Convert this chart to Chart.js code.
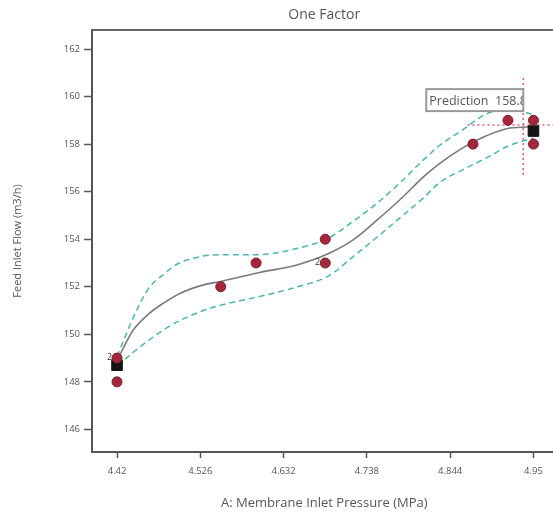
<!DOCTYPE html>
<html>
<head>
<meta charset="utf-8">
<script src="https://cdn.jsdelivr.net/npm/chart.js@4/dist/chart.umd.min.js"></script>
<style>
  html, body { margin: 0; padding: 0; overflow: hidden; background: #fff; }
  canvas { display: block; }
</style>
</head>
<body>
<canvas id="factorChart" width="565" height="513"></canvas>
<script>
// measured runs
const runPressure = [4.42, 4.42, 4.552, 4.597, 4.685, 4.685, 4.873, 4.9175, 4.95, 4.95];
const runFlow = [149, 148, 152, 153, 154, 153, 158, 159, 159, 158];
const replicateRuns = [0, 5]; // runs that were done twice

// design end points
const endPressure = [4.42, 4.95];
const endFlow = [148.7, 158.55];

// model fit and its confidence band
const fitPressure = [4.42, 4.43, 4.44, 4.46, 4.48, 4.50, 4.53, 4.55, 4.60, 4.65, 4.69, 4.72, 4.75, 4.78, 4.81, 4.83, 4.86, 4.89, 4.92, 4.95];
const fitFlow = [148.9, 149.55, 150.15, 150.85, 151.33, 151.72, 152.08, 152.21, 152.59, 152.93, 153.41, 153.96, 154.78, 155.66, 156.62, 157.17, 157.84, 158.35, 158.68, 158.73];
const upperFlow = [149.06, 149.87, 150.66, 151.92, 152.55, 153.01, 153.29, 153.35, 153.35, 153.62, 154.06, 154.74, 155.49, 156.37, 157.34, 157.93, 158.60, 159.27, 159.48, 159.23];
const lowerFlow = [148.69, 148.95, 149.23, 149.74, 150.20, 150.58, 151.00, 151.21, 151.58, 152.00, 152.47, 153.26, 154.06, 154.90, 155.74, 156.37, 156.92, 157.42, 157.95, 158.25];

// prediction crosshair
const predPressure = 4.937;
const predFlow = 158.8;
const predSpanX = [4.866, 5.0];
const predSpanY = [156.7, 160.9];

const xTicks = [4.42, 4.526, 4.632, 4.738, 4.844, 4.95];
const xTickLabels = ['4.42', '4.526', '4.632', '4.738', '4.844', '4.95'];
const yTicks = [146, 148, 150, 152, 154, 156, 158, 160, 162];

const FONT = '"Open Sans", "Noto Sans", sans-serif';
const INK = '#555';

const pts = (xs, ys) => xs.map((x, i) => ({ x, y: ys[i] }));

const framePlugin = {
  id: 'frame',
  beforeDatasetsDraw(chart) {
    const { ctx, chartArea: a } = chart;
    ctx.save();
    ctx.strokeStyle = '#666';
    ctx.lineWidth = 2;
    ctx.beginPath();
    ctx.moveTo(a.left, a.top);
    ctx.lineTo(a.right, a.top);
    ctx.lineTo(a.right, a.bottom);
    ctx.stroke();
    ctx.restore();
  },
  afterDatasetsDraw(chart) {
    const { ctx } = chart;
    const xs = chart.scales.x, ys = chart.scales.y;

    // replicate counts
    ctx.save();
    ctx.fillStyle = '#333';
    ctx.font = '9px ' + FONT;
    ctx.textAlign = 'right';
    ctx.textBaseline = 'middle';
    replicateRuns.forEach(i => {
      ctx.fillText('2', xs.getPixelForValue(runPressure[i]) - 5, ys.getPixelForValue(runFlow[i]) - 1);
    });
    ctx.restore();

    // prediction box
    const px = xs.getPixelForValue(predPressure);
    const py = ys.getPixelForValue(predFlow);
    const w = 97, h = 22;
    const bx = px - w, by = py - 14 - h;
    ctx.save();
    ctx.fillStyle = '#fff';
    ctx.fillRect(bx, by, w, h);
    ctx.beginPath();
    ctx.rect(bx, by, w, h);
    ctx.clip();
    ctx.fillStyle = INK;
    ctx.font = '12.5px ' + FONT;
    ctx.textBaseline = 'middle';
    ctx.fillText('Prediction  ' + predFlow.toFixed(1), bx + 3, by + h / 2 + 1);
    ctx.restore();
    ctx.save();
    ctx.strokeStyle = '#999';
    ctx.lineWidth = 2;
    ctx.strokeRect(bx, by, w, h);
    ctx.restore();
  }
};

new Chart(document.getElementById('factorChart'), {
  type: 'scatter',
  data: {
    datasets: [
      {
        data: pts(runPressure, runFlow),
        pointRadius: 5,
        pointBackgroundColor: '#a3283b',
        pointBorderColor: '#7a1c2a',
        pointBorderWidth: 1,
        order: 0
      },
      {
        data: pts(endPressure, endFlow),
        pointStyle: 'rect',
        pointRadius: 7.5,
        pointBackgroundColor: '#151515',
        pointBorderColor: '#151515',
        order: 1
      },
      {
        data: pts(fitPressure, fitFlow),
        showLine: true,
        pointRadius: 0,
        borderColor: '#7a7a7a',
        borderWidth: 1.6,
        cubicInterpolationMode: 'monotone',
        order: 2
      },
      {
        data: pts(fitPressure, upperFlow),
        showLine: true,
        pointRadius: 0,
        borderColor: '#4db5ab',
        borderWidth: 1.5,
        borderDash: [6, 4],
        cubicInterpolationMode: 'monotone',
        order: 3
      },
      {
        data: pts(fitPressure, lowerFlow),
        showLine: true,
        pointRadius: 0,
        borderColor: '#4db5ab',
        borderWidth: 1.5,
        borderDash: [6, 4],
        cubicInterpolationMode: 'monotone',
        order: 3
      },
      {
        data: pts(predSpanX, [predFlow, predFlow]),
        showLine: true,
        pointRadius: 0,
        borderColor: '#e0587c',
        borderWidth: 1.5,
        borderDash: [2, 3],
        order: 4
      },
      {
        data: pts([predPressure, predPressure], predSpanY),
        showLine: true,
        pointRadius: 0,
        borderColor: '#e0587c',
        borderWidth: 1.5,
        borderDash: [2, 3],
        order: 4
      }
    ]
  },
  options: {
    responsive: false,
    animation: false,
    layout: { padding: { left: 0, right: 4, top: 0, bottom: 0 } },
    plugins: {
      legend: { display: false },
      tooltip: { enabled: false },
      title: {
        display: true,
        text: 'One Factor',
        fullSize: false,
        color: INK,
        font: { family: FONT, size: 14, weight: 'normal' },
        padding: { top: 7, bottom: 6.2 }
      }
    },
    scales: {
      x: {
        type: 'linear',
        min: 4.38815,
        max: 4.9793,
        afterFit: s => { s.height = 61; },
        afterBuildTicks: s => { s.ticks = xTicks.map(v => ({ value: v })); },
        grid: { drawOnChartArea: false, tickLength: 6, tickColor: INK, tickWidth: 1.5 },
        border: { color: INK, width: 2 },
        ticks: {
          color: INK,
          font: { family: FONT, size: 9.5 },
          padding: 8,
          maxRotation: 0,
          autoSkip: false,
          callback: v => xTickLabels[xTicks.indexOf(v)] ?? ''
        },
        title: {
          display: true,
          text: 'A: Membrane Inlet Pressure (MPa)',
          color: INK,
          font: { family: FONT, size: 13 },
          padding: { top: 0, bottom: 2.2 }
        }
      },
      y: {
        type: 'linear',
        min: 145.05,
        max: 162.8,
        afterFit: s => { s.width = 92; },
        afterBuildTicks: s => { s.ticks = yTicks.map(v => ({ value: v })); },
        grid: { drawOnChartArea: false, tickLength: 8, tickColor: INK, tickWidth: 1.5 },
        border: { color: INK, width: 2 },
        ticks: {
          color: INK,
          font: { family: FONT, size: 9.5 },
          padding: 4,
          callback: v => String(v)
        },
        title: {
          display: true,
          text: 'Feed Inlet Flow (m3/h)',
          color: INK,
          font: { family: FONT, size: 11 },
          padding: { top: 11.4, bottom: 0 }
        }
      }
    }
  },
  plugins: [framePlugin]
});
</script>
</body>
</html>
